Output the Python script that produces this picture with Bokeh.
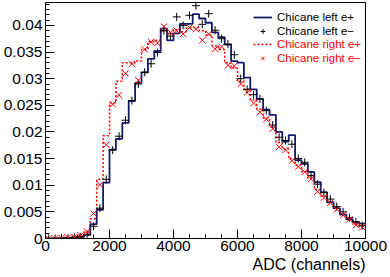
import numpy as np
from bokeh.plotting import figure
from bokeh.models import (Range1d, FixedTicker, CustomJSTickFormatter, Legend,
                          LegendItem, Title)
from bokeh.embed import file_html
from bokeh.resources import INLINE

# ---- data (normalised counts per 200-channel bin, 0..10000 ADC) ----
bin_width = 200
left_ep = [0, 0, 0.00005, 0.0001, 0.0002, 0.0003, 0.0007, 0.0027, 0.0054, 0.0105,
           0.0167, 0.0187, 0.0217, 0.0258, 0.0292, 0.0312, 0.0337, 0.0352, 0.0394, 0.0372,
           0.0385, 0.0403, 0.0403, 0.0421, 0.0413, 0.0405, 0.0387, 0.0378, 0.0364, 0.0333,
           0.0330, 0.0302, 0.0280, 0.0262, 0.0242, 0.0232, 0.0200, 0.0182, 0.0194, 0.0147,
           0.0140, 0.0125, 0.0106, 0.0087, 0.0068, 0.0057, 0.0045, 0.0036, 0.0031, 0.0028]
left_em = [0, 0, 0, 0.0001, 0.0002, 0.0003, 0.0007, 0.0023, 0.0057, 0.0111,
           0.0166, 0.0192, 0.0222, 0.0259, 0.0290, 0.0312, 0.0328, 0.0349, 0.0390, 0.0380,
           0.0416, 0.0400, 0.0419, 0.0437, 0.0402, 0.0422, 0.0391, 0.0375, 0.0365, 0.0345,
           0.0300, 0.0280, 0.0270, 0.0262, 0.0240, 0.0213, 0.0190, 0.0184, 0.0177, 0.0150,
           0.0143, 0.0118, 0.0102, 0.0086, 0.0074, 0.0060, 0.0050, 0.0039, 0.0031, 0.0024]
right_ep = [0, 0, 0.0001, 0.0002, 0.0003, 0.0006, 0.0012, 0.0037, 0.0111, 0.0193,
            0.0255, 0.0295, 0.0330, 0.0330, 0.0333, 0.0355, 0.0370, 0.0372, 0.0390, 0.0385,
            0.0392, 0.0388, 0.0395, 0.0396, 0.0390, 0.0382, 0.0362, 0.0355, 0.0330, 0.0320,
            0.0295, 0.0280, 0.0260, 0.0243, 0.0226, 0.0210, 0.0180, 0.0168, 0.0150, 0.0138,
            0.0126, 0.0113, 0.0092, 0.0080, 0.0068, 0.0056, 0.0045, 0.0037, 0.0027, 0.0023]
right_em = [0, 0, 0.0001, 0.0002, 0.0003, 0.0006, 0.0013, 0.0047, 0.0101, 0.0176,
            0.0252, 0.0269, 0.0310, 0.0328, 0.0297, 0.0355, 0.0369, 0.0367, 0.0398, 0.0387,
            0.0390, 0.0384, 0.0396, 0.0393, 0.0372, 0.0384, 0.0356, 0.0360, 0.0325, 0.0324,
            0.0290, 0.0274, 0.0254, 0.0237, 0.0224, 0.0206, 0.0172, 0.0166, 0.0146, 0.0135,
            0.0125, 0.0112, 0.0088, 0.0077, 0.0067, 0.0055, 0.0044, 0.0036, 0.0025, 0.0021]
series_labels = ["Chicane left e+", "Chicane left e\u2212",
                 "Chicane right e+", "Chicane right e\u2212"]
x_ticks = [0, 2000, 4000, 6000, 8000, 10000]
y_ticks = [0, 0.005, 0.01, 0.015, 0.02, 0.025, 0.03, 0.035, 0.04]
x_title = "ADC (channels)"

nb = len(left_ep)
edges = np.arange(nb + 1) * bin_width
centers = edges[:-1] + bin_width / 2

def step_y(v):
    return list(v) + [v[-1]]

FONT = "Liberation Sans"
NAVY = "#161a6c"

p = figure(width=390, height=277, output_backend="svg", toolbar_location=None,
           x_range=Range1d(0, 10000), y_range=Range1d(0, 0.0443),
           min_border_left=45, min_border_right=25, min_border_top=2,
           min_border_bottom=39)
p.grid.visible = False
p.outline_line_color = "black"
p.outline_line_width = 1
p.background_fill_color = "white"
p.border_fill_color = "white"

r_rep = p.step(x=edges, y=step_y(right_ep), mode="after", line_color="red",
               line_width=1.5, line_dash="2 2")
r_lep = p.step(x=edges, y=step_y(left_ep), mode="after", line_color=NAVY,
               line_width=1.8)
r_lem = p.scatter(x=centers, y=left_em, marker="cross", size=8,
                  line_color="black", line_width=1)
r_rem = p.scatter(x=centers, y=right_em, marker="x", size=9,
                  line_color="red", line_width=1)

for ax in (p.xaxis[0], p.yaxis[0]):
    ax.axis_line_color = "black"
    ax.major_tick_line_color = "black"
    ax.minor_tick_line_color = "black"
    ax.major_tick_in = 9
    ax.major_tick_out = 0
    ax.minor_tick_in = 4
    ax.minor_tick_out = 0
    ax.major_label_text_font = FONT
    ax.major_label_text_font_size = "15.5px"
    ax.major_label_text_color = "black"

p.yaxis.major_label_standoff = 3
p.xaxis.major_label_standoff = 2

p.xaxis.ticker = FixedTicker(ticks=x_ticks,
                             minor_ticks=list(range(0, 10001, 500)))
p.yaxis.ticker = FixedTicker(ticks=y_ticks,
                             minor_ticks=[i * 0.001 for i in range(45)])
p.yaxis.formatter = CustomJSTickFormatter(
    code="return parseFloat(tick.toFixed(3)).toString();")
p.xaxis.formatter = CustomJSTickFormatter(code="return tick.toFixed(0);")

xt = Title(text=x_title, align="right", text_font=FONT, text_font_size="16px",
           text_font_style="normal", text_color="black", standoff=0, offset=0)
p.add_layout(xt, "below")

def make_legend(items, color, loc):
    return Legend(items=items, location=loc, padding=0, spacing=2,
                  glyph_width=19, glyph_height=12, label_height=12,
                  label_standoff=5, label_text_font=FONT,
                  label_text_font_size="11.5px", label_text_color=color,
                  border_line_color=None, background_fill_alpha=0, margin=0)

leg1 = make_legend([LegendItem(label=series_labels[0], renderers=[r_lep]),
                    LegendItem(label=series_labels[1], renderers=[r_lem])],
                   "black", (208, 201))
leg2 = make_legend([LegendItem(label=series_labels[2], renderers=[r_rep]),
                    LegendItem(label=series_labels[3], renderers=[r_rem])],
                   "red", (208, 174))
p.add_layout(leg1)
p.add_layout(leg2)

open("out.html", "w").write(file_html(p, INLINE))
